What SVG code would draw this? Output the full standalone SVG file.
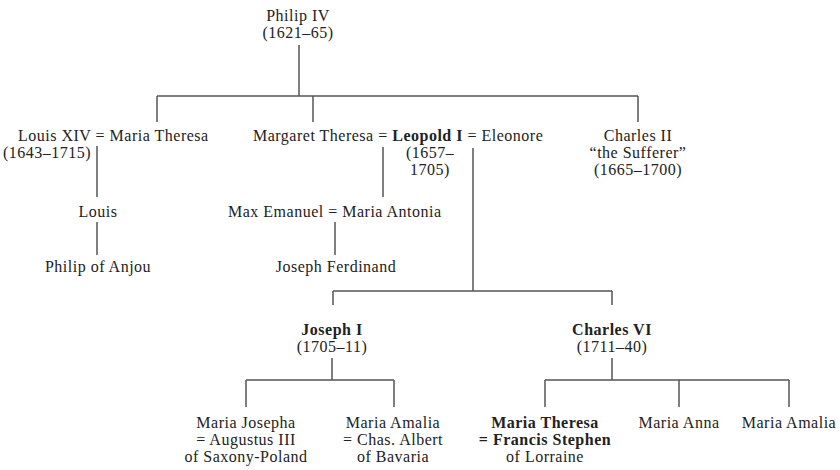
<svg xmlns="http://www.w3.org/2000/svg" width="840" height="470" viewBox="0 0 840 470">
<style>
text{font-family:'Liberation Serif','DejaVu Serif',serif;font-size:16px;letter-spacing:0.5px;fill:#222}
.c{text-anchor:middle}
.b{font-weight:bold}
.ln{stroke:#555;stroke-width:1.5;fill:none}
</style>
<rect width="840" height="470" fill="#fff"/>
<g id="connectors" class="ln">
<path d="M299 45V96M157 96H638M157 96V122M313 96V122M638 96V122"/>
<path d="M97 146V197M97 222V255"/>
<path d="M383 147V197M335 222V255"/>
<path d="M473 148V291M333 291H612M333 291V305M612 291V305"/>
<path d="M332 358V380M246 380H394M246 380V407M394 380V407"/>
<path d="M612 358V380M545 380H789M545 380V407M679 380V407M789 380V407"/>
</g>
<g id="philip4"><text class="c" x="298" y="21">Philip IV</text><text class="c" x="298" y="38">(1621–65)</text></g>
<g id="louis14"><text x="18" y="141">Louis XIV = Maria Theresa</text><text x="3" y="158">(1643–1715)</text></g>
<g id="leopold1"><text x="253" y="141">Margaret Theresa = <tspan class="b">Leopold I</tspan> = Eleonore</text><text x="406" y="158">(1657–</text><text x="410" y="175">1705)</text></g>
<g id="charles2"><text class="c" x="638" y="141">Charles II</text><text class="c" x="638" y="158">“the Sufferer”</text><text class="c" x="638" y="175">(1665–1700)</text></g>
<g id="louis"><text class="c" x="98" y="217">Louis</text></g>
<g id="philipanjou"><text class="c" x="98" y="272">Philip of Anjou</text></g>
<g id="maxemanuel"><text x="228" y="217">Max Emanuel = Maria Antonia</text></g>
<g id="josephferdinand"><text class="c" x="336" y="272">Joseph Ferdinand</text></g>
<g id="joseph1"><text class="c b" x="332" y="335">Joseph I</text><text class="c" x="332" y="352">(1705–11)</text></g>
<g id="charles6"><text class="c b" x="612" y="335">Charles VI</text><text class="c" x="612" y="352">(1711–40)</text></g>
<g id="mariajosepha"><text class="c" x="246" y="428">Maria Josepha</text><text class="c" x="246" y="445">= Augustus III</text><text class="c" x="246" y="462">of Saxony-Poland</text></g>
<g id="mariaamalia1"><text class="c" x="393" y="428">Maria Amalia</text><text class="c" x="393" y="445">= Chas. Albert</text><text class="c" x="393" y="462">of Bavaria</text></g>
<g id="mariatheresa"><text class="c b" x="545" y="428">Maria Theresa</text><text class="c b" x="545" y="445">= Francis Stephen</text><text class="c" x="545" y="462">of Lorraine</text></g>
<g id="mariaanna"><text class="c" x="679" y="428">Maria Anna</text></g>
<g id="mariaamalia2"><text class="c" x="789" y="428">Maria Amalia</text></g>
</svg>
